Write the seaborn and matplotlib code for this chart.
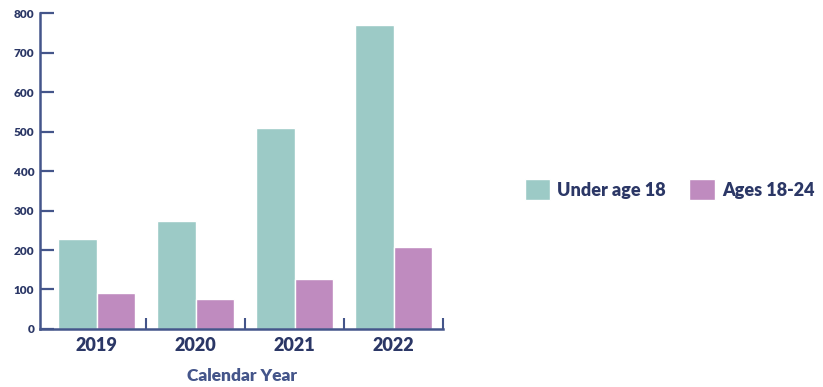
import numpy as np
import pandas as pd
import matplotlib
matplotlib.use("Agg")
import matplotlib.pyplot as plt
import seaborn as sns

years = ["2019", "2020", "2021", "2022"]
under_18 = [227, 273, 510, 769]
ages_18_24 = [90, 76, 126, 207]
groups = ["Under age 18", "Ages 18-24"]
yticks = [0, 100, 200, 300, 400, 500, 600, 700, 800]

TEAL = "#9ccac6"
PURPLE = "#bf8bbf"
AXIS = "#44558a"
TEXT = "#2b3766"

sns.set_theme(style="white")
plt.rcParams["font.family"] = ["Lato", "DejaVu Sans"]

df = pd.DataFrame({
    "year": years * 2,
    "count": under_18 + ages_18_24,
    "group": [groups[0]] * len(years) + [groups[1]] * len(years),
})

fig = plt.figure(figsize=(8.23, 3.87), dpi=100)
ax = fig.add_axes([0.0486, 0.150, 0.490, 0.816])

sns.barplot(data=df, x="year", y="count", hue="group", hue_order=groups,
            palette=[TEAL, PURPLE], width=0.78, saturation=1,
            edgecolor="white", linewidth=1, ax=ax)

ax.set_xlim(-0.575, 3.48)
ax.set_ylim(0, 800)
ax.set_yticks(yticks)
ax.set_yticklabels([str(v) for v in yticks], fontsize=8.5, fontweight="heavy", color=TEXT)
ax.set_xticks(range(len(years)))
ax.set_xticklabels(years, fontsize=13, fontweight="heavy", color=TEXT)
ax.set_xticks(np.arange(len(years)) + 0.5, minor=True)
ax.tick_params(axis="x", which="major", bottom=True, length=0, pad=6)
ax.tick_params(axis="x", which="minor", bottom=True, direction="in", length=8, width=1.5, color=AXIS)
ax.tick_params(axis="y", left=True, direction="in", length=10, width=1.6, color=AXIS, pad=4)

for side in ["top", "right"]:
    ax.spines[side].set_visible(False)
for side in ["left", "bottom"]:
    ax.spines[side].set_color(AXIS)
    ax.spines[side].set_linewidth(1.8)

ax.set_ylabel("")
ax.set_xlabel("Calendar Year", fontsize=12.5, fontweight="heavy", color=AXIS, labelpad=10)

handles, labels = ax.get_legend_handles_labels()
ax.legend_.remove()
leg = fig.legend(handles, labels, loc="center left", bbox_to_anchor=(0.618, 0.51),
                 ncol=2, frameon=False, handlelength=1.4, handleheight=1.35,
                 handletextpad=0.4, columnspacing=1.3,
                 prop={"size": 13, "weight": "heavy"})
for t in leg.get_texts():
    t.set_color(TEXT)

fig.savefig("out.png", dpi=100)
